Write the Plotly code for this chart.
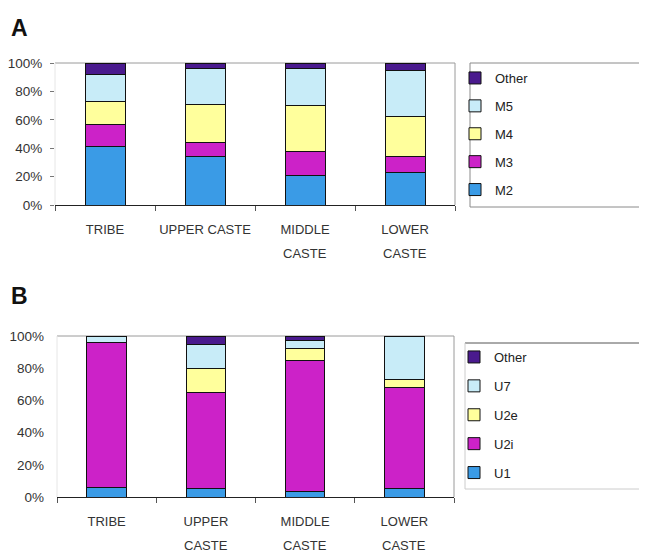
import plotly.graph_objects as go

# ---------------- data ----------------
categories_A = ["TRIBE", "UPPER CASTE", "MIDDLE CASTE", "LOWER CASTE"]
tick_line1_A = ["TRIBE", "UPPER CASTE", "MIDDLE", "LOWER"]
tick_line2_A = ["", "", "CASTE", "CASTE"]

categories_B = ["TRIBE", "UPPER CASTE", "MIDDLE CASTE", "LOWER CASTE"]
tick_line1_B = ["TRIBE", "UPPER", "MIDDLE", "LOWER"]
tick_line2_B = ["", "CASTE", "CASTE", "CASTE"]

series_A_names = ["M2", "M3", "M4", "M5", "Other"]
M2 = [41, 34, 21, 23]
M3 = [16, 10, 17, 11]
M4 = [16, 27, 32, 28]
M5 = [19, 25, 26, 33]
Other_A = [8, 4, 4, 5]

series_B_names = ["U1", "U2i", "U2e", "U7", "Other"]
U1 = [6, 5, 3.5, 5]
U2i = [90, 60, 81, 63]
U2e = [0, 15, 8, 5]
U7 = [4, 15, 4.5, 27]
Other_B = [0, 5, 3, 0]

y_ticks = [0, 20, 40, 60, 80, 100]
y_tick_labels = ["0%", "20%", "40%", "60%", "80%", "100%"]

colors = ["#3a9be6", "#cc22c8", "#ffff9c", "#c8ecf8", "#4a1a8e"]

# ---------------- figure ----------------
W, H = 647, 552
OX, OY = 8, 8  # page body margin offset


def px(x):
    return (x - OX) / W


def py(y):
    return 1 - (y - OY) / H


fig = go.Figure()

font_family = "Liberation Sans, Arial, sans-serif"

for i, (name, vals, col) in enumerate(zip(series_A_names, [M2, M3, M4, M5, Other_A], colors)):
    fig.add_trace(go.Bar(
        x=categories_A, y=vals, name=name,
        marker=dict(color=col, line=dict(color="#111111", width=1)),
        width=0.4, xaxis="x", yaxis="y", legend="legend", legendgroup="A" + name,
        legendrank=100 - i,
    ))

for i, (name, vals, col) in enumerate(zip(series_B_names, [U1, U2i, U2e, U7, Other_B], colors)):
    fig.add_trace(go.Bar(
        x=categories_B, y=vals, name=name,
        marker=dict(color=col, line=dict(color="#111111", width=1)),
        width=0.4, xaxis="x2", yaxis="y2", legend="legend2", legendgroup="B" + name,
        legendrank=100 - i,
    ))

xfont = dict(family=font_family, size=13, color="#333333")
yfont = dict(family=font_family, size=13.5, color="#333333")

xA_dom = [px(55), px(455)]
yA_dom = [py(205), py(63)]
xB_dom = [px(57), px(454)]
yB_dom = [py(497), py(336)]

common_x = dict(
    type="category", showgrid=False, showline=True, linecolor="#222222", linewidth=1,
    ticks="outside", tickson="boundaries", ticklen=5, tickcolor="#555555",
    tickfont=xfont, ticklabelstandoff=12, zeroline=False, automargin=False, tickangle=0,
)
common_y = dict(
    range=[0, 100], tickvals=y_ticks, ticktext=y_tick_labels, showgrid=False,
    showline=False, zeroline=False, tickfont=yfont, automargin=False,
)

fig.update_layout(
    width=W, height=H,
    margin=dict(l=0, r=0, t=0, b=0),
    paper_bgcolor="white", plot_bgcolor="white",
    barmode="stack",
    font=dict(family=font_family, color="#333333"),
    xaxis=dict(domain=xA_dom, anchor="y", tickvals=categories_A, ticktext=tick_line1_A, **common_x),
    yaxis=dict(domain=yA_dom, anchor="x", ticks="outside", ticklen=4, tickcolor="#777777",
               ticklabelstandoff=5, **common_y),
    xaxis2=dict(domain=xB_dom, anchor="y2", tickvals=categories_B, ticktext=tick_line1_B, **common_x),
    yaxis2=dict(domain=yB_dom, anchor="x2", ticks="", ticklabelstandoff=12, **common_y),
    legend=dict(
        x=px(455), y=py(63), xanchor="left", yanchor="top", traceorder="grouped",
        tracegroupgap=8, bgcolor="rgba(0,0,0,0)", borderwidth=0,
        font=dict(family=font_family, size=13, color="#222222"), itemwidth=30,
    ),
    legend2=dict(
        x=px(454), y=py(342), xanchor="left", yanchor="top", traceorder="grouped",
        tracegroupgap=9, bgcolor="rgba(0,0,0,0)", borderwidth=0,
        font=dict(family=font_family, size=13, color="#222222"), itemwidth=30,
    ),
    showlegend=True,
)

# second lines of the category labels, placed on the category scale
for cat, line2 in zip(categories_A, tick_line2_A):
    if line2:
        fig.add_annotation(text=line2, xref="x", yref="y domain", x=cat, y=0, yanchor="top",
                           yshift=-(252 - 205 - 8), showarrow=False, font=xfont)
for cat, line2 in zip(categories_B, tick_line2_B):
    if line2:
        fig.add_annotation(text=line2, xref="x2", yref="y2 domain", x=cat, y=0, yanchor="top",
                           yshift=-39, showarrow=False, font=xfont)

# frames around plot areas and legends
shapes = []
for xd, yd in [(xA_dom, yA_dom), (xB_dom, yB_dom)]:
    shapes.append(dict(type="line", xref="paper", yref="paper", x0=xd[0], x1=xd[1], y0=yd[1], y1=yd[1],
                       line=dict(color="#9a9a9a", width=1), layer="below"))
    shapes.append(dict(type="line", xref="paper", yref="paper", x0=xd[1], x1=xd[1], y0=yd[0], y1=yd[1],
                       line=dict(color="#9a9a9a", width=1), layer="below"))
    shapes.append(dict(type="line", xref="paper", yref="paper", x0=xd[0], x1=xd[0], y0=yd[0], y1=yd[1],
                       line=dict(color="#e6e6e6", width=1), layer="below"))
# legend A box
shapes.append(dict(type="rect", xref="paper", yref="paper", x0=px(470), x1=px(680), y0=py(207), y1=py(63),
                   line=dict(color="#8a8a8a", width=1), fillcolor="rgba(0,0,0,0)"))
# legend B box (top, left, bottom)
shapes.append(dict(type="line", xref="paper", yref="paper", x0=px(465), x1=px(680), y0=py(343), y1=py(343),
                   line=dict(color="#555555", width=1)))
shapes.append(dict(type="line", xref="paper", yref="paper", x0=px(465), x1=px(465), y0=py(489), y1=py(343),
                   line=dict(color="#cccccc", width=1)))
shapes.append(dict(type="line", xref="paper", yref="paper", x0=px(465), x1=px(680), y0=py(489), y1=py(489),
                   line=dict(color="#cccccc", width=1)))
fig.update_layout(shapes=shapes)

fig.add_annotation(text="<b>A</b>", xref="paper", yref="paper", x=px(9), y=py(28), xanchor="left",
                   yanchor="middle", showarrow=False, font=dict(family=font_family, size=23, color="#111111"))
fig.add_annotation(text="<b>B</b>", xref="paper", yref="paper", x=px(9), y=py(296), xanchor="left",
                   yanchor="middle", showarrow=False, font=dict(family=font_family, size=23, color="#111111"))

fig.write_html("out.html")
